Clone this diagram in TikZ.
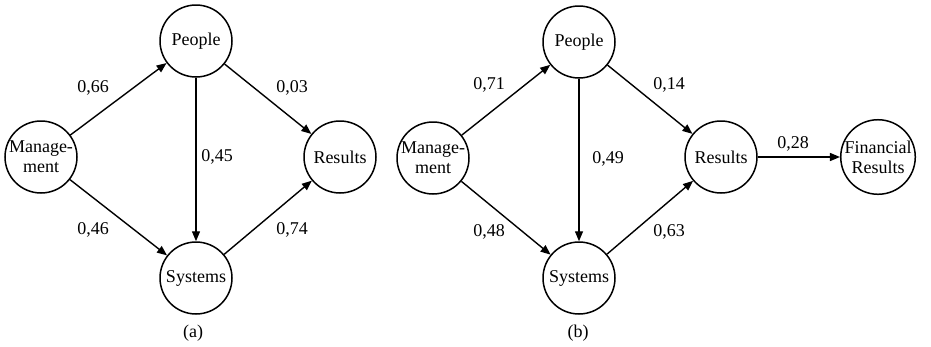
\documentclass[tikz,border=0pt]{standalone}
\usepackage{fontspec}
\setmainfont{Liberation Serif}
\usetikzlibrary{arrows.meta}
\begin{document}
\begin{tikzpicture}[x=1pt,y=-1pt,
  every node/.style={font=\fontsize{18}{20}\selectfont},
  circ/.style={circle,draw,line width=1.5pt,minimum size=72pt,inner sep=0pt,align=center},
  conn/.style={line width=1.4pt,-{Triangle[length=10pt,width=8pt]}},
  lab/.style={inner sep=0pt}]
\useasboundingbox (0,0) rectangle (931,346);
% (a)
\node[circ] (ma) at (41,157) {Manage-\\ment};
\node[circ] (pa) at (196,41) {People};
\node[circ] (sa) at (196,278) {Systems};
\node[circ] (ra) at (340,157) {Results};
\draw[conn] (ma) -- (pa);
\draw[conn] (ma) -- (sa);
\draw[conn] (pa) -- (sa);
\draw[conn] (pa) -- (ra);
\draw[conn] (sa) -- (ra);
\node[lab] (la1) at (93,88) {0,66};
\node[lab] (la2) at (292,88) {0,03};
\node[lab] (la3) at (217,157) {0,45};
\node[lab] (la4) at (93,230) {0,46};
\node[lab] (la5) at (292,230) {0,74};
\node[lab] (capa) at (193,333) {(a)};
% (b)
\node[circ] (mb) at (433,158) {Manage-\\ment};
\node[circ] (pb) at (579,42) {People};
\node[circ] (sb) at (579,278) {Systems};
\node[circ] (rb) at (721,157) {Results};
\node[circ] (fb) at (878,157) {Financial\\Results};
\draw[conn] (mb) -- (pb);
\draw[conn] (mb) -- (sb);
\draw[conn] (pb) -- (sb);
\draw[conn] (pb) -- (rb);
\draw[conn] (sb) -- (rb);
\draw[conn] (rb) -- (fb);
\node[lab] (lb1) at (489,85) {0,71};
\node[lab] (lb2) at (669,85) {0,14};
\node[lab] (lb3) at (608,159) {0,49};
\node[lab] (lb4) at (489,232) {0,48};
\node[lab] (lb5) at (669,232) {0,63};
\node[lab] (lb6) at (793,144) {0,28};
\node[lab] (capb) at (578,333) {(b)};
\end{tikzpicture}
\end{document}
